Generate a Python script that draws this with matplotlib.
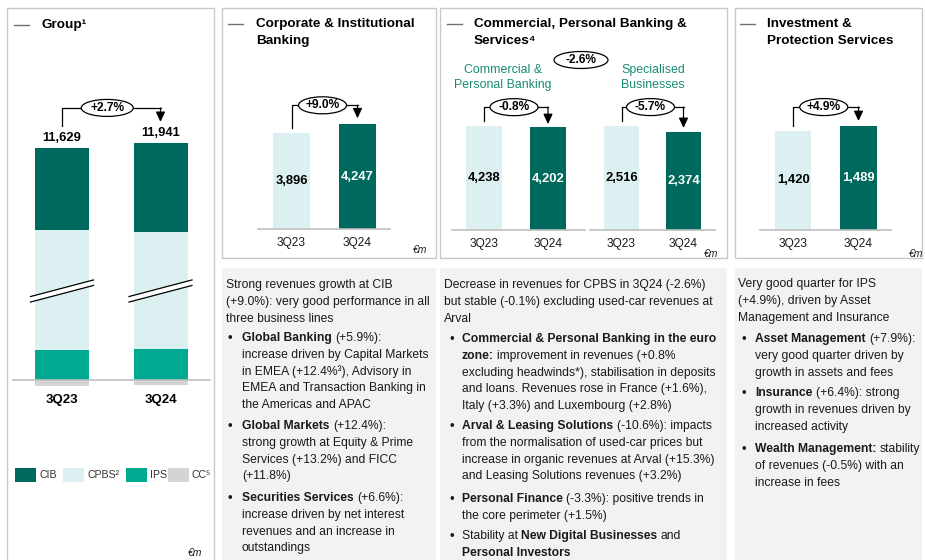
import matplotlib
matplotlib.use("Agg")
import matplotlib.pyplot as plt
from matplotlib.patches import Rectangle, Ellipse, Polygon
from matplotlib.transforms import ScaledTranslation

plt.rcParams['font.family'] = ['Liberation Sans', 'DejaVu Sans']

# ---- data (EUR m) ----
quarters = ['3Q23', '3Q24']

group_total = [11629, 11941]
group_cib = [3896, 4247]
group_cpbs = [6613, 6445]
group_ips = [1420, 1489]
group_cc = [-300, -240]
group_change = '+2.7%'

cib_rev = [3896, 4247]
cib_change = '+9.0%'

cpb_rev = [4238, 4202]
cpb_change = '-0.8%'
sb_rev = [2516, 2374]
sb_change = '-5.7%'
cpbs_change = '-2.6%'

ips_rev = [1420, 1489]
ips_change = '+4.9%'

legend_labels = ['CIB', 'CPBS²', 'IPS', 'CC⁵']

# ---- colours ----
DARK = '#00695E'
LIGHT = '#DCEFF1'
TEAL = '#00A98F'
GREY = '#D4D4D6'
SUB = '#178A76'
TXT = '#1a1a1a'
BORDER = '#c8c8c8'

W, H = 925, 560
fig = plt.figure(figsize=(W / 100, H / 100), dpi=100)

bg = fig.add_axes([0, 0, 1, 1])
bg.set_xlim(0, W)
bg.set_ylim(H, 0)
bg.axis('off')

# panel frames and grey comment boxes
for x0, y0, x1, y1 in [(7, 8, 214, 580), (222, 8, 436, 258), (440, 8, 727, 258), (735, 8, 922, 258)]:
    bg.add_patch(Rectangle((x0, y0), x1 - x0, y1 - y0, fill=False, ec=BORDER, lw=1))
for x0, y0, x1, y1 in [(222, 268, 436, 580), (440, 268, 727, 580), (735, 268, 922, 580)]:
    bg.add_patch(Rectangle((x0, y0), x1 - x0, y1 - y0, fc='#f2f2f2', ec='none'))

# panel titles
def title(x_dash, x, y, lines):
    bg.plot([x_dash, x_dash + 15], [y, y], color='#707070', lw=1)
    for i, s in enumerate(lines):
        bg.text(x, y + i * 17, s, ha='left', va='center', fontsize=9.7, fontweight='bold', color='black')

title(14, 42, 25, ['Group¹'])
title(228, 256, 24, ['Corporate & Institutional', 'Banking'])
title(447, 474, 24, ['Commercial, Personal Banking &', 'Services⁴'])
title(740, 767, 24, ['Investment &', 'Protection Services'])

for x, y in [(202, 553), (427, 250), (718, 254), (923, 254)]:
    bg.text(x, y, '€m', ha='right', va='center', fontsize=7.5, style='italic', color=TXT)

# sub-headings in the CPBS panel
for x, lines in [(503, ['Commercial &', 'Personal Banking']), (653, ['Specialised', 'Businesses'])]:
    for i, s in enumerate(lines):
        bg.text(x, 70 + i * 15, s, ha='center', va='center', fontsize=8.9, color=SUB)

# overall CPBS change
bg.add_patch(Ellipse((581, 60), 54, 17, fc='white', ec='black', lw=0.9))
bg.text(581, 60, cpbs_change, ha='center', va='center', fontsize=8.6, fontweight='bold')

# legend of the group chart
for x, lab, col in zip([15, 63, 126, 168], legend_labels, [DARK, LIGHT, TEAL, GREY]):
    bg.add_patch(Rectangle((x, 468), 21, 14, fc=col, ec='none'))
    bg.text(x + 24, 475, lab, ha='left', va='center', fontsize=7.6, color='#333333')


def chart_axes(x0, x1, y_top, y_base, y_bot, c0, c1, scale):
    """Axes placed in pixel box; bar centres at c0/c1, `scale` px per 1000."""
    ax = fig.add_axes([x0 / W, 1 - y_bot / H, (x1 - x0) / W, (y_bot - y_top) / H])
    ax.set_xlim((x0 - c0) / (c1 - c0), (x1 - c0) / (c1 - c0))
    ax.set_ylim(-(y_bot - y_base) / scale * 1000, (y_base - y_top) / scale * 1000)
    ax.patch.set_visible(False)
    for s in ['left', 'right', 'top']:
        ax.spines[s].set_visible(False)
    ax.spines['bottom'].set_position(('data', 0))
    ax.spines['bottom'].set_color('#bfbfbf')
    ax.spines['bottom'].set_linewidth(1.2)
    ax.set_yticks([])
    ax.tick_params(axis='x', length=0)
    return ax


def bracket(ax, scale, tops, label, start_gap, tip_gap, rise, ell_w=48, dx=-2):
    k = 1000 / scale
    y0 = tops[0] + start_gap * k
    y1 = tops[1] + tip_gap * k
    yl = max(tops) + rise * k
    ax.plot([0, 0, 1], [y0, yl, yl], color='black', lw=0.9, clip_on=False, zorder=4)
    ax.annotate('', xy=(1, y1), xytext=(1, yl),
                arrowprops=dict(arrowstyle='-|>,head_length=0.6,head_width=0.28', mutation_scale=10,
                                color='black', lw=0.9, shrinkA=0, shrinkB=0), zorder=4)
    tr = fig.dpi_scale_trans + ScaledTranslation(0.5, yl, ax.transData)
    ax.add_patch(Ellipse((dx / 100, 0), ell_w / 100, 0.17, transform=tr, fc='white', ec='black',
                         lw=0.9, clip_on=False, zorder=5))
    ax.annotate(label, (0.5, yl), xytext=(dx * 0.72, 0), textcoords='offset points', ha='center',
                va='center', fontsize=8.6, fontweight='bold', zorder=6)


def simple_chart(x0, x1, y_base, c0, c1, bw_px, scale, vals, change, tip_gap):
    ax = chart_axes(x0, x1, 60, y_base, 258, c0, c1, scale)
    bw = bw_px / (c1 - c0)
    ax.bar([0, 1], vals, bw, color=[LIGHT, DARK])
    for i, v in enumerate(vals):
        ax.text(i, v / 2, f'{v:,}', ha='center', va='center', fontsize=9.4, fontweight='bold',
                color='black' if i == 0 else 'white')
    ax.set_xticks([0, 1], quarters, fontsize=8.6, color=TXT)
    ax.tick_params(axis='x', pad=5.5)
    bracket(ax, scale, vals, change, 5, tip_gap, 19)
    return ax


simple_chart(258, 390, 229, 291.5, 357.5, 37, 24.65, cib_rev, cib_change, 6)
simple_chart(452, 585, 230, 484, 548, 36, 24.5, cpb_rev, cpb_change, 3)
simple_chart(590, 715, 230, 621.5, 683.5, 35, 41.3, sb_rev, sb_change, 4)
simple_chart(760, 891, 230, 793, 858.5, 36.5, 69.8, ips_rev, ips_change, 5)

# ---- group chart with an axis break inside CPBS ----
g_scale = 20.95
cut = 865
ax = chart_axes(13, 210, 60, 380, 430, 62, 160.5, g_scale)
bw = 54 / 98.5
x = [0, 1]
ax.bar(x, group_ips, bw, color=TEAL)
ax.bar(x, [c - cut for c in group_cpbs], bw, bottom=group_ips, color=LIGHT)
cib_bottom = [i + c - cut for i, c in zip(group_ips, group_cpbs)]
ax.bar(x, group_cib, bw, bottom=cib_bottom, color=DARK)
ax.bar(x, group_cc, bw, color=GREY)
g_tops = [b + c for b, c in zip(cib_bottom, group_cib)]
for i, (t, tot) in enumerate(zip(g_tops, group_total)):
    ax.annotate(f'{tot:,}', (i, t), xytext=(0, 5), textcoords='offset points', ha='center',
                va='baseline', fontsize=9.3, fontweight='bold', color='black')
ax.set_xticks(x, quarters, fontsize=9.5, fontweight='bold', color='black')
ax.tick_params(axis='x', pad=10)

# break marks
k = 1000 / g_scale
kx = 1 / 98.5
yb = (380 - 291) * k
for i in x:
    xs = [i - 31.5 * kx, i + 31.5 * kx]
    up = [yb - 8.3 * k, yb + 8.3 * k]
    ax.add_patch(Polygon([(xs[0], up[0] + 2.75 * k), (xs[1], up[1] + 2.75 * k),
                          (xs[1], up[1] - 2.75 * k), (xs[0], up[0] - 2.75 * k)],
                         closed=True, fc='white', ec='none', zorder=3))
    for off in (2.75, -2.75):
        ax.plot(xs, [u + off * k for u in up], color='black', lw=0.9, zorder=4)

bracket(ax, g_scale, g_tops, group_change, 22, 21, 35, ell_w=52, dx=-4)

# ---- commentary boxes ----
LH = 16.8
FS = 8.75


def rich(x, y, line):
    parts = [p.strip() for p in line.split('**')]
    prev = None
    for j, p in enumerate(parts):
        if not p:
            continue
        kw = dict(fontsize=FS, color=TXT, fontweight='bold' if j % 2 else 'normal')
        if prev is None:
            prev = bg.text(x, y, p, ha='left', va='center', **kw)
        else:
            prev = bg.annotate(p, xy=(1, 0), xycoords=prev, xytext=(FS * 0.278, 0),
                               textcoords='offset points', ha='left', va='bottom', **kw)


def comment_box(x_para, x_bullet, x_text, paragraphs):
    for y0, bullet, lines in paragraphs:
        if bullet:
            bg.text(x_bullet, y0, '•', ha='left', va='center', fontsize=FS + 1, color=TXT)
        for i, line in enumerate(lines):
            rich(x_text if bullet else x_para, y0 + i * LH, line)


comment_box(226, 228, 242, [
    (285, False, ['Strong revenues growth at CIB',
                  '(+9.0%): very good performance in all',
                  'three business lines']),
    (338, True, ['**Global Banking** (+5.9%):',
                 'increase driven by Capital Markets',
                 'in EMEA (+12.4%³), Advisory in',
                 'EMEA and Transaction Banking in',
                 'the Americas and APAC']),
    (426, True, ['**Global Markets** (+12.4%):',
                 'strong growth at Equity & Prime',
                 'Services (+13.2%) and FICC',
                 '(+11.8%)']),
    (498, True, ['**Securities Services** (+6.6%):',
                 'increase driven by net interest',
                 'revenues and an increase in',
                 'outstandings']),
])

comment_box(444, 449, 462, [
    (285, False, ['Decrease in revenues for CPBS in 3Q24 (-2.6%)',
                  'but stable (-0.1%) excluding used-car revenues at',
                  'Arval']),
    (339, True, ['**Commercial & Personal Banking in the euro**',
                 '**zone:** improvement in revenues (+0.8%',
                 'excluding headwinds*), stabilisation in deposits',
                 'and loans. Revenues rose in France (+1.6%),',
                 'Italy (+3.3%) and Luxembourg (+2.8%)']),
    (426, True, ['**Arval & Leasing Solutions** (-10.6%): impacts',
                 'from the normalisation of used-car prices but',
                 'increase in organic revenues at Arval (+15.3%)',
                 'and Leasing Solutions revenues (+3.2%)']),
    (499, True, ['**Personal Finance** (-3.3%): positive trends in',
                 'the core perimeter (+1.5%)']),
    (536, True, ['Stability at **New Digital Businesses** and',
                 '**Personal Investors**']),
])

comment_box(738, 741, 755, [
    (284, False, ['Very good quarter for IPS',
                  '(+4.9%), driven by Asset',
                  'Management and Insurance']),
    (339, True, ['**Asset Management** (+7.9%):',
                 'very good quarter driven by',
                 'growth in assets and fees']),
    (393, True, ['**Insurance** (+6.4%): strong',
                 'growth in revenues driven by',
                 'increased activity']),
    (449, True, ['**Wealth Management:** stability',
                 'of revenues (-0.5%) with an',
                 'increase in fees']),
])

fig.savefig('out.png', dpi=100)
